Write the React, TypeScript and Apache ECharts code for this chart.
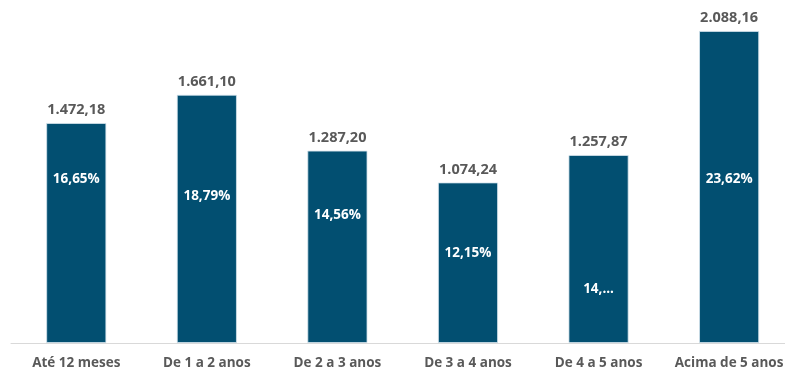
import React, { useEffect, useRef } from "react";
import * as echarts from "echarts";

const categories = ["Até 12 meses", "De 1 a 2 anos", "De 2 a 3 anos", "De 3 a 4 anos", "De 4 a 5 anos", "Acima de 5 anos"];
const values = [1472.18, 1661.1, 1287.2, 1074.24, 1257.87, 2088.16];
const valueLabels = ["1.472,18", "1.661,10", "1.287,20", "1.074,24", "1.257,87", "2.088,16"];
const pctLabels = ["16,65%", "18,79%", "14,56%", "12,15%", "14,...", "23,62%"];
const pctOffsets = [-55, -24, -33, -11, 39, -9];

export default function App() {
  const ref = useRef<HTMLDivElement>(null);
  useEffect(() => {
    if (!ref.current) return;
    const chart = echarts.init(ref.current, null, { renderer: "svg" });
    const font = "'Open Sans', 'Noto Sans', sans-serif";
    chart.setOption({
      animation: false,
      grid: { left: 11, top: 0, bottom: 28, right: 5.6, containLabel: false },
      xAxis: {
        type: "category",
        data: categories,
        axisLine: { lineStyle: { color: "#d9d9d9", width: 1 } },
        axisTick: { show: false },
        axisLabel: { interval: 0, color: "#595959", fontFamily: font, fontWeight: "bold", fontSize: 13.5, margin: 12 },
      },
      yAxis: { type: "value", min: 0, max: 2296, show: false, splitLine: { show: false } },
      series: [
        {
          type: "bar",
          barWidth: 60,
          data: values.map((v, i) => ({
            value: v,
            label: { offset: [0, pctOffsets[i]] },
          })),
          itemStyle: { color: "#024F71", borderColor: "#d6e4ee", borderWidth: 0.8 },
          label: {
            show: true,
            position: "inside",
            color: "#ffffff",
            fontFamily: font,
            fontWeight: "bold",
            fontSize: 13.5,
            formatter: (p: any) => pctLabels[p.dataIndex],
          },
          z: 2,
        },
        {
          type: "bar",
          barWidth: 60,
          barGap: "-100%",
          data: values,
          itemStyle: { color: "rgba(0,0,0,0)" },
          label: {
            show: true,
            position: "top",
            distance: 7,
            color: "#595959",
            fontFamily: font,
            fontWeight: "bold",
            fontSize: 14.5,
            formatter: (p: any) => valueLabels[p.dataIndex],
          },
          z: 3,
        },
      ],
    });
    return () => chart.dispose();
  }, []);
  return <div ref={ref} style={{ position: "fixed", left: 0, top: 0, width: 800, height: 371 }} />;
}
